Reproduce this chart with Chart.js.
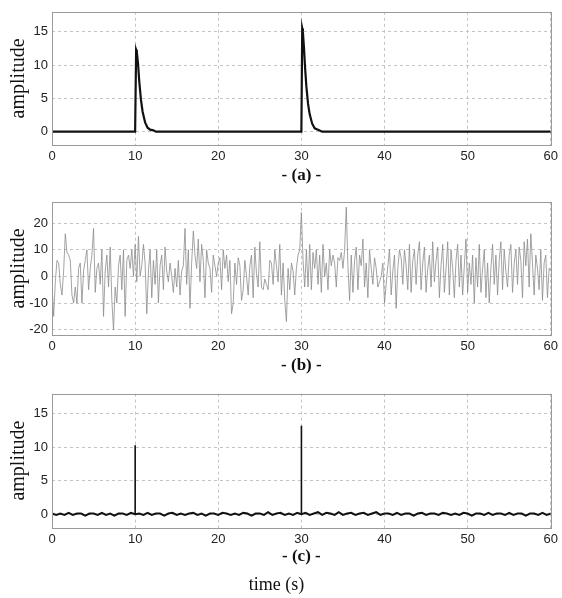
<!DOCTYPE html>
<html><head><meta charset="utf-8">
<script src="https://cdn.jsdelivr.net/npm/chart.js@4/dist/chart.umd.min.js"></script>
<style>
html,body{margin:0;padding:0;background:#fff;}
#wrap{position:relative;width:562px;height:598px;}
.cv{position:absolute;left:0;width:562px;}
</style></head><body>
<div id="wrap">
<div class="cv" style="top:0;height:190px"><canvas id="ca"></canvas></div>
<div class="cv" style="top:190px;height:190px"><canvas id="cb"></canvas></div>
<div class="cv" style="top:380px;height:218px"><canvas id="cc"></canvas></div>
</div>
<script>
// ---- data ----
const xTicks = [0, 10, 20, 30, 40, 50, 60];
const yTicksA = [0, 5, 10, 15];
const yTicksB = [-20, -10, 0, 10, 20];
const yTicksC = [0, 5, 10, 15];
// (a) pulses
const timeA = [0, 10, 10.12, 10.2, 10.35, 10.5, 10.7, 10.9, 11.2, 11.5, 11.8, 12.2, 12.5, 30, 30.1, 30.18, 30.3, 30.45, 30.6, 30.8, 31.0, 31.3, 31.6, 32.0, 32.5, 60];
const ampA  = [0, 0, 12.3, 12.0, 10.2, 7.5, 4.8, 3.0, 1.4, 0.6, 0.3, 0.2, 0, 0, 15.5, 15.0, 12.8, 9.5, 6.8, 4.2, 2.6, 1.2, 0.5, 0.3, 0, 0];
// (b) noisy signal, one value every 0.2 s
const stepB = 0.2;
const ampB = [
 -3,-15,-2,6,5,  -3,-7,2,16,9,  8,6,-7,-10,-4,  -10,3,5,-10,2,  6,10,-5,3,8,
 18,-6,3,5,-3,  10,-15,2,8,-4,  11,-9,-20,-4,-10,  4,8,-5,10,-15,  6,8,3,10,0,
 12,-2,15,0,4,  12,5,-14,2,10,  -8,6,-3,10,-10,  4,8,-5,11,2,  -2,5,0,-6,3,
 -4,6,-7,2,4,  18,-3,10,-12,5,  17,8,3,14,-2,  12,6,-8,10,5,  3,-6,8,4,0,
 5,7,-5,10,3,  8,-2,6,-14,-10,  5,-3,7,4,-9,  -5,6,0,-7,4,  8,-8,11,1,-4,
 13,-4,-5,-1,-3,  -5,6,5,-3,10,  4,-2,12,-7,5,  -9,-17,3,-5,5,  2,-7,3,8,10,
 24,6,-4,10,-4,  12,-5,9,3,10,  -3,8,-6,12,0,  5,-5,10,4,8,  5,-4,7,6,9,
 3,10,26,4,-9,  8,-6,6,11,-5,  8,4,14,-4,5,  -8,10,3,-3,7,  3,-4,-2,0,5,
 -10,-3,4,10,-7,  2,8,-12,3,10,  7,-3,10,4,-5,  12,-6,6,10,-3,  8,13,-5,5,11,
 -6,3,8,-4,13,  -2,6,11,-8,4,  12,-6,3,13,-7,  10,3,-8,6,12,  -4,8,-7,4,14,
 -6,5,-3,8,-10,  7,-4,12,-6,3,  10,-8,5,-10,3,  12,-3,8,-7,6,  13,-5,10,2,-4,
 8,12,-6,5,10,  -3,11,6,-8,13,  4,14,-4,16,5,  -7,8,3,-5,10,  -9,5,8,-8,3,
 2
];
// (c) reconstructed: small baseline every 0.5 s plus two spikes
const stepC = 0.5;
const baseC = [
 0.1,-0.1,0.1,-0.1,0.2,-0.1,0.1,0.1,-0.2,0.1,
 0.1,-0.1,0.2,-0.1,0.1,-0.2,0.1,0.1,-0.1,0.2,
 0.0,0.1,-0.1,0.2,-0.1,0.1,0.1,-0.2,0.1,0.2,
 -0.1,0.1,-0.1,0.1,0.2,-0.1,0.1,-0.2,0.1,0.1,
 -0.1,0.2,0.1,-0.1,0.1,-0.1,0.2,0.1,-0.2,0.1,
 0.1,-0.1,0.3,-0.1,0.1,0.2,-0.1,0.1,-0.1,0.2,
 0.0,0.2,-0.1,0.1,0.3,-0.1,0.2,0.1,-0.1,0.3,
 -0.1,0.1,0.2,-0.1,0.1,0.2,-0.1,0.1,0.3,-0.1,
 0.1,0.1,-0.1,0.2,-0.1,0.1,0.1,-0.2,0.1,0.2,
 -0.1,0.1,0.1,-0.1,0.2,0.1,-0.1,0.1,-0.1,0.2,
 0.1,-0.2,0.1,0.1,-0.1,0.2,-0.1,0.1,0.1,-0.1,
 0.2,-0.1,0.1,0.1,-0.2,0.1,0.1,-0.1,0.2,-0.1,
 0.1
];
const spikeTimesC = [9.99, 10.0, 10.01, 20, 29.99, 30.0, 30.01];
const spikeValsC  = [0, 10.3, 0, null, 0, 13.2, 0];

// ---- helpers ----
const serif = "'Liberation Serif', 'DejaVu Serif', serif";
const sans = "'Liberation Sans', Arial, sans-serif";
const frame = {
  id: 'frame',
  afterDatasetsDraw(chart) {
    const a = chart.chartArea, c = chart.ctx;
    c.save(); c.strokeStyle = '#9a9a9a'; c.lineWidth = 1;
    c.strokeRect(Math.round(a.left) + 0.5, Math.round(a.top) + 0.5, Math.round(a.right - a.left), Math.round(a.bottom - a.top));
    c.restore();
  }
};
function pts(xs, ys) { return xs.map((x, i) => ({x: x, y: ys[i]})); }
function stepPts(step, ys) { return ys.map((y, i) => ({x: +(i * step).toFixed(3), y: y})); }

function makeChart(id, datasets, yMin, yMax, yTicks, padTop, xTitle, axisH, bottomTitle) {
  const cfg = {
    type: 'line',
    data: { datasets: datasets },
    plugins: [frame],
    options: {
      responsive: true, maintainAspectRatio: false, animation: false,
      events: [],
      layout: { padding: { left: 0, right: 9, top: padTop, bottom: 0 } },
      elements: { point: { radius: 0 }, line: { tension: 0 } },
      plugins: {
        legend: { display: false }, tooltip: { enabled: false },
        title: bottomTitle ? { display: true, position: 'bottom', text: bottomTitle, color: '#111',
          font: { family: serif, size: 18, weight: 'normal' }, padding: { top: 4, bottom: 2 } } : { display: false }
      },
      scales: {
        x: {
          type: 'linear', min: 0, max: 60,
          afterBuildTicks: s => { s.ticks = xTicks.map(v => ({value: v})); },
          afterFit: s => { s.height = axisH; },
          border: { display: false, dash: [3, 3] },
          grid: { color: '#c4c4c4', drawTicks: false },
          ticks: { color: '#222', font: { family: sans, size: 13 }, padding: 4, maxRotation: 0, autoSkip: false },
          title: { display: true, text: xTitle, color: '#111', font: { family: serif, size: 17, weight: 'bold' }, padding: { top: 0, bottom: 4 } }
        },
        y: {
          type: 'linear', min: yMin, max: yMax,
          ticks: { color: '#222', font: { family: sans, size: 13 }, padding: 4 },
          afterBuildTicks: s => { s.ticks = yTicks.map(v => ({value: v})); },
          afterFit: s => { s.width = 52; },
          border: { display: false, dash: [3, 3] },
          grid: { color: '#c4c4c4', drawTicks: false },
          title: { display: true, text: 'amplitude', color: '#111', font: { family: serif, size: 20, weight: 'normal' }, padding: { top: 7, bottom: 0 } }
        }
      }
    }
  };
  return new Chart(document.getElementById(id), cfg);
}

makeChart('ca', [
  { data: pts(timeA, ampA), borderColor: '#111', borderWidth: 2.2, fill: false }
], -2, 18, yTicksA, 11.5, '- (a) -', 45, null);

makeChart('cb', [
  { data: stepPts(stepB, ampB), borderColor: '#8c8c8c', borderWidth: 0.8, fill: false }
], -22, 28, yTicksB, 10, '- (b) -', 45, null);

makeChart('cc', [
  { data: stepPts(stepC, baseC), borderColor: '#111', borderWidth: 2, fill: false },
  { data: pts(spikeTimesC, spikeValsC), borderColor: '#111', borderWidth: 1.6, fill: false, spanGaps: false }
], -2, 18, yTicksC, 13.6, '- (c) -', 42.8, 'time (s)');
</script>
</body></html>
